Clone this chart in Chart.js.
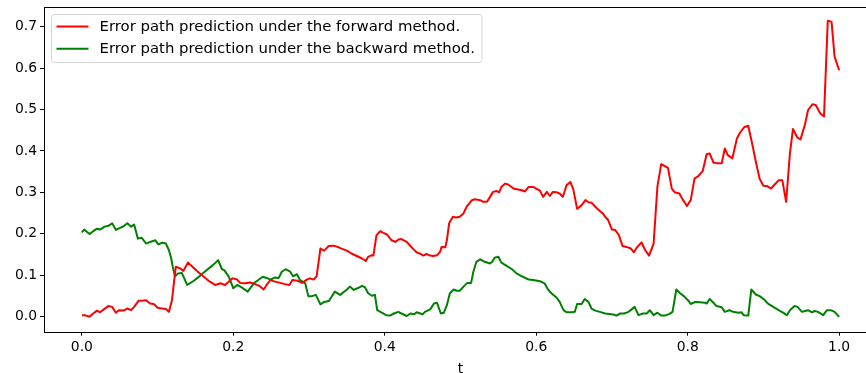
<!DOCTYPE html>
<html>
<head>
<meta charset="utf-8">
<script src="https://cdn.jsdelivr.net/npm/chart.js@4.4.1/dist/chart.umd.min.js"></script>
<style>
html,body{margin:0;padding:0;background:#fff;overflow:hidden;}
#wrap{position:relative;width:880px;height:373px;}
</style>
</head>
<body>
<div id="wrap"><canvas id="c"></canvas></div>
<script>
// ---- Data ----
const seriesLabels = [
  "Error path prediction under the forward method.",
  "Error path prediction under the backward method."
];
const redT = [0,0.004,0.010,0.015,0.020,0.024,0.029,0.035,0.040,0.045,0.049,0.055,0.060,0.065,0.069,0.075,0.079,0.085,0.090,0.095,
0.100,0.106,0.111,0.115,0.119,0.121,0.124,0.130,0.134,0.140,0.145,0.152,0.161,0.169,0.176,0.183,0.189,0.194,0.199,0.205,
0.209,0.216,0.222,0.229,0.235,0.240,0.244,0.249,0.255,0.262,0.268,0.274,0.278,0.285,0.291,0.297,0.301,0.306,0.310,0.315,
0.320,0.326,0.332,0.339,0.343,0.350,0.356,0.363,0.370,0.375,0.378,0.383,0.385,0.389,0.394,0.398,0.403,0.409,0.414,0.418,
0.422,0.429,0.433,0.438,0.442,0.447,0.451,0.455,0.460,0.464,0.469,0.473,0.475,0.480,0.482,0.485,0.490,0.494,0.499,0.504,
0.508,0.515,0.519,0.526,0.530,0.535,0.539,0.543,0.548,0.551,0.554,0.559,0.563,0.570,0.576,0.581,0.585,0.590,0.596,0.600,
0.605,0.609,0.614,0.618,0.622,0.627,0.631,0.635,0.638,0.640,0.645,0.649,0.654,0.660,0.665,0.669,0.673,0.678,0.684,0.688,
0.691,0.695,0.700,0.704,0.709,0.714,0.719,0.725,0.729,0.733,0.739,0.744,0.749,0.755,0.760,0.765,0.770,0.774,0.779,0.783,
0.789,0.794,0.799,0.804,0.809,0.814,0.820,0.825,0.829,0.834,0.839,0.845,0.849,0.853,0.859,0.865,0.869,0.875,0.880,0.886,
0.890,0.895,0.900,0.905,0.910,0.914,0.920,0.925,0.930,0.935,0.939,0.945,0.949,0.955,0.959,0.965,0.969,0.975,0.980,0.985,
0.990,0.994,1.000];
const redV = [0.003,0.003,-0.001,0.007,0.014,0.010,0.017,0.025,0.023,0.009,0.015,0.014,0.019,0.015,0.023,0.038,0.038,0.039,0.031,0.030,
0.021,0.019,0.018,0.011,0.039,0.072,0.120,0.116,0.110,0.130,0.122,0.110,0.096,0.084,0.076,0.080,0.076,0.084,0.092,0.089,
0.081,0.080,0.082,0.078,0.073,0.065,0.076,0.088,0.084,0.081,0.078,0.076,0.088,0.086,0.081,0.089,0.092,0.089,0.097,0.164,
0.159,0.170,0.171,0.167,0.164,0.159,0.152,0.146,0.140,0.134,0.144,0.148,0.147,0.196,0.206,0.202,0.198,0.184,0.180,0.186,
0.187,0.180,0.172,0.162,0.155,0.151,0.147,0.151,0.147,0.146,0.148,0.156,0.168,0.167,0.184,0.225,0.241,0.239,0.241,0.249,
0.265,0.281,0.283,0.281,0.277,0.277,0.289,0.301,0.303,0.300,0.313,0.321,0.319,0.309,0.307,0.305,0.302,0.313,0.313,0.309,
0.304,0.289,0.301,0.291,0.301,0.300,0.297,0.289,0.305,0.317,0.325,0.307,0.260,0.269,0.281,0.276,0.275,0.265,0.255,0.249,
0.241,0.233,0.210,0.209,0.197,0.170,0.168,0.164,0.155,0.167,0.179,0.160,0.147,0.176,0.313,0.368,0.363,0.359,0.309,0.300,
0.297,0.281,0.267,0.281,0.333,0.339,0.352,0.392,0.394,0.372,0.370,0.370,0.406,0.390,0.382,0.430,0.444,0.458,0.461,0.410,
0.374,0.333,0.316,0.315,0.309,0.317,0.329,0.329,0.277,0.394,0.453,0.432,0.428,0.465,0.499,0.513,0.511,0.491,0.483,0.715,
0.712,0.628,0.595];

const greenT = [0,0.003,0.010,0.015,0.020,0.024,0.030,0.035,0.040,0.045,0.049,0.055,0.060,0.065,0.069,0.074,0.079,0.085,0.090,0.097,
0.101,0.106,0.111,0.115,0.118,0.120,0.123,0.127,0.132,0.139,0.147,0.156,0.165,0.173,0.180,0.185,0.188,0.194,0.200,0.205,
0.211,0.219,0.227,0.233,0.239,0.244,0.249,0.255,0.260,0.264,0.269,0.275,0.279,0.284,0.288,0.295,0.299,0.304,0.309,0.315,
0.320,0.326,0.330,0.334,0.341,0.350,0.354,0.359,0.364,0.370,0.374,0.378,0.383,0.387,0.390,0.396,0.402,0.407,0.412,0.418,
0.422,0.429,0.434,0.439,0.442,0.447,0.450,0.453,0.460,0.465,0.469,0.474,0.478,0.482,0.486,0.491,0.495,0.499,0.504,0.509,
0.514,0.517,0.521,0.526,0.532,0.539,0.542,0.545,0.550,0.554,0.561,0.568,0.574,0.581,0.590,0.596,0.605,0.611,0.616,0.620,
0.627,0.631,0.636,0.640,0.647,0.651,0.654,0.660,0.664,0.669,0.673,0.678,0.684,0.691,0.697,0.703,0.706,0.711,0.716,0.722,
0.726,0.730,0.735,0.741,0.746,0.750,0.755,0.760,0.765,0.770,0.776,0.780,0.785,0.790,0.795,0.801,0.804,0.810,0.816,0.823,
0.825,0.829,0.834,0.838,0.845,0.849,0.855,0.860,0.867,0.871,0.874,0.880,0.884,0.890,0.895,0.901,0.906,0.913,0.920,0.926,
0.931,0.935,0.941,0.945,0.951,0.955,0.959,0.964,0.968,0.972,0.979,0.984,0.989,0.994,1.000];
const greenV = [0.203,0.210,0.199,0.206,0.212,0.210,0.217,0.219,0.225,0.209,0.213,0.218,0.225,0.217,0.222,0.188,0.190,0.176,0.180,0.184,
0.174,0.178,0.176,0.160,0.140,0.120,0.097,0.104,0.105,0.076,0.085,0.098,0.112,0.124,0.136,0.114,0.112,0.096,0.068,0.076,
0.070,0.060,0.080,0.088,0.096,0.093,0.089,0.094,0.093,0.108,0.114,0.108,0.097,0.102,0.088,0.080,0.049,0.049,0.052,0.029,
0.035,0.037,0.048,0.060,0.052,0.065,0.072,0.064,0.068,0.074,0.070,0.056,0.050,0.052,0.015,0.009,0.003,0.002,0.007,0.011,
0.007,0.001,0.007,0.005,0.010,0.007,0.005,0.011,0.017,0.031,0.033,0.007,0.009,0.027,0.056,0.065,0.062,0.062,0.072,0.081,
0.081,0.108,0.132,0.138,0.132,0.128,0.132,0.142,0.144,0.130,0.122,0.114,0.104,0.097,0.089,0.088,0.085,0.080,0.064,0.056,
0.045,0.035,0.015,0.010,0.010,0.011,0.030,0.030,0.042,0.035,0.019,0.014,0.011,0.007,0.006,0.004,0.002,0.007,0.007,0.011,
0.017,0.023,0.003,0.007,0.007,0.015,0.003,0.009,0.002,0.002,0.006,0.011,0.065,0.056,0.049,0.038,0.030,0.035,0.034,0.033,
0.031,0.042,0.033,0.025,0.022,0.011,0.015,0.011,0.009,0.010,0.003,0.002,0.065,0.053,0.049,0.041,0.031,0.023,0.015,0.009,
0.003,0.015,0.025,0.023,0.011,0.013,0.015,0.010,0.013,0.011,0.003,0.015,0.015,0.011,-0.001];

const xTicks = [0.0,0.2,0.4,0.6,0.8,1.0];
const yTicks = [0.0,0.1,0.2,0.3,0.4,0.5,0.6,0.7];
const xTitle = "t";

// ---- Build chart ----
const toPts = (xs, ys) => xs.map((x,i)=>({x:x, y:ys[i]}));
const FONT = '"DejaVu Sans", sans-serif';
const FS = 13.9;
const LFS = 14.9;

const framePlugin = {
  id:'frame',
  afterDraw(chart){
    const {ctx, chartArea:a} = chart;
    ctx.save();
    ctx.strokeStyle = '#000';
    ctx.lineWidth = 1;
    ctx.strokeRect(Math.round(a.left)+0.5, Math.round(a.top)+0.5, Math.round(a.right-a.left), Math.round(a.bottom-a.top));
    // legend
    ctx.font = LFS + 'px ' + FONT;
    const ds = chart.data.datasets;
    let maxW = 0;
    ds.forEach(d=>{ maxW = Math.max(maxW, ctx.measureText(d.label).width); });
    const bx = a.left + 7.5, by = a.top + 7.5;
    const bw = 48 + maxW + 7, bh = 48;
    ctx.beginPath();
    if (ctx.roundRect) ctx.roundRect(bx, by, bw, bh, 3); else ctx.rect(bx,by,bw,bh);
    ctx.fillStyle = 'rgba(255,255,255,0.8)';
    ctx.fill();
    ctx.strokeStyle = '#d6d6d6';
    ctx.lineWidth = 1;
    ctx.stroke();
    ds.forEach((d,i)=>{
      const yy = by + 12 + i*22.3;
      ctx.beginPath();
      ctx.strokeStyle = d.borderColor;
      ctx.lineWidth = 2;
      ctx.moveTo(bx+5, yy); ctx.lineTo(bx+37, yy);
      ctx.stroke();
      ctx.fillStyle = '#000';
      ctx.textBaseline = 'middle';
      ctx.textAlign = 'left';
      ctx.fillText(d.label, bx+48, yy+0.5);
    });
    ctx.restore();
  }
};

new Chart(document.getElementById('c'), {
  type:'line',
  data:{
    datasets:[
      {label:seriesLabels[0], data:toPts(redT, redV), borderColor:'#ff0000', backgroundColor:'#ff0000',
       borderWidth:2, pointRadius:0, tension:0, fill:false, borderJoinStyle:'round'},
      {label:seriesLabels[1], data:toPts(greenT, greenV), borderColor:'#008000', backgroundColor:'#008000',
       borderWidth:2, pointRadius:0, tension:0, fill:false, borderJoinStyle:'round'}
    ]
  },
  options:{
    responsive:true,
    maintainAspectRatio:false,
    animation:false,
    devicePixelRatio:1,
    layout:{padding:{top:7, right:3, left:0, bottom:0}},
    plugins:{legend:{display:false}, tooltip:{enabled:false}},
    scales:{
      x:{
        type:'linear', min:-0.05, max:1.05,
        afterBuildTicks(s){ s.ticks = xTicks.map(v=>({value:v})); },
        afterFit(s){ s.height = 41.3; s.paddingLeft = 0; s.paddingRight = 0; },
        grid:{display:true, drawOnChartArea:false, drawTicks:true, tickLength:4, color:'#000'},
        border:{display:false},
        ticks:{color:'#000', font:{family:FONT, size:FS}, padding:3, maxRotation:0,
               callback:(v)=>Number(v).toFixed(1)},
        title:{display:true, text:xTitle, color:'#000', font:{family:FONT, size:FS, lineHeight:0.45}, padding:{top:0,bottom:0}}
      },
      y:{
        type:'linear', min:-0.037, max:0.748,
        afterBuildTicks(s){ s.ticks = yTicks.map(v=>({value:v})); },
        afterFit(s){ s.width = 44; s.paddingTop = 0; s.paddingBottom = 0; },
        grid:{display:true, drawOnChartArea:false, drawTicks:true, tickLength:4, color:'#000'},
        border:{display:false},
        ticks:{color:'#000', font:{family:FONT, size:FS}, padding:3,
               callback:(v)=>Number(v).toFixed(1)}
      }
    }
  },
  plugins:[framePlugin]
});
</script>
</body>
</html>
